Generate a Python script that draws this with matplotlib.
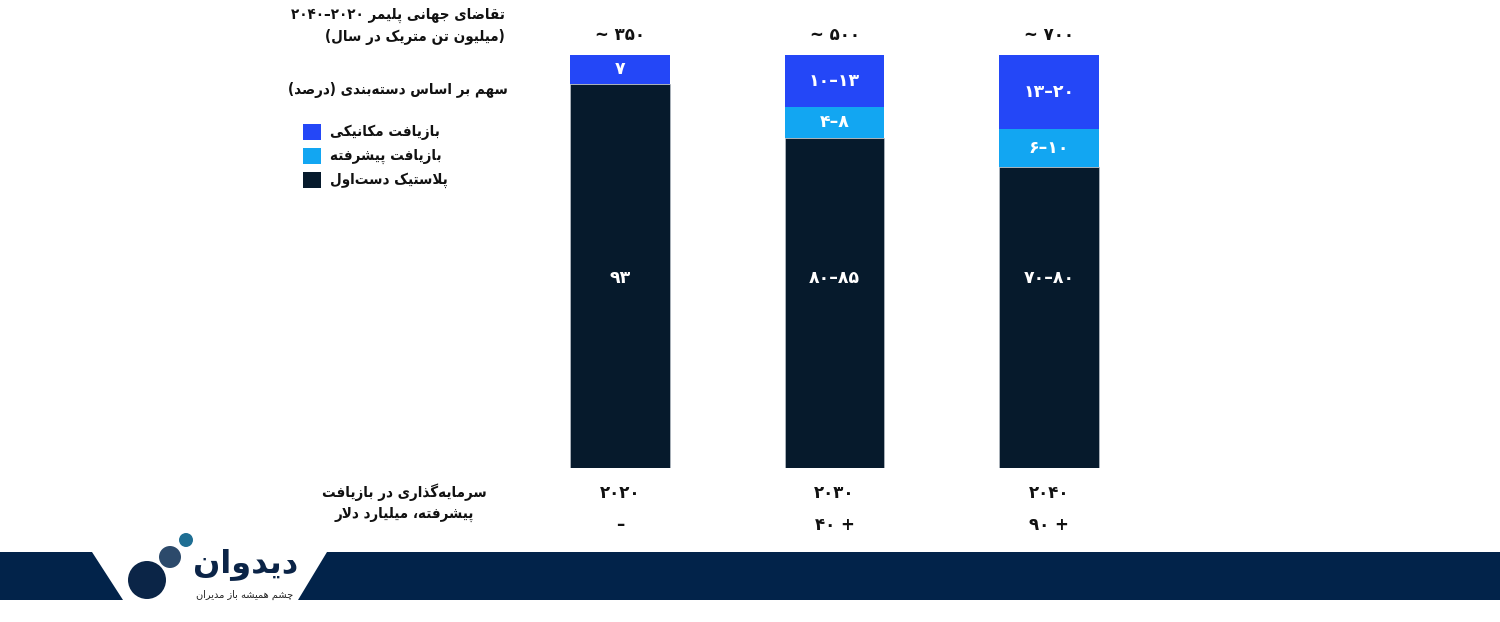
import re
import numpy as np
import matplotlib
matplotlib.use("Agg")
import matplotlib.pyplot as plt
from matplotlib.patches import Polygon, Rectangle, Ellipse

# # # # # # # # # # # # # # # # # # # # # # # # # # # # # # # # # # # # # # #
# data

years = ["۲۰۲۰", "۲۰۳۰", "۲۰۴۰"]
totals = ["~ ۳۵۰", "~ ۵۰۰", "~ ۷۰۰"]
invest = ["–", "۴۰ +", "۹۰ +"]

virgin = [93, 80, 73]
advanced = [0, 7.5, 9]
mechanical = [7, 12.5, 18]

virgin_lbl = ["۹۳", "۸۰–۸۵", "۷۰–۸۰"]
advanced_lbl = ["", "۴–۸", "۶–۱۰"]
mechanical_lbl = ["۷", "۱۰–۱۳", "۱۳–۲۰"]

series_names = ["بازیافت مکانیکی", "بازیافت پیشرفته", "پلاستیک دست‌اول"]
title1 = "تقاضای جهانی پلیمر ۲۰۲۰–۲۰۴۰"
title2 = "(میلیون تن متریک در سال)"
subtitle = "سهم بر اساس دسته‌بندی (درصد)"
invest_title = ["سرمایه‌گذاری در بازیافت", "پیشرفته، میلیارد دلار"]

c_mech = "#2447f7"
c_adv = "#12a6f2"
c_virgin = "#061a2c"
navy = "#02234a"

# # # # # # # # # # # # # # # # # # # # # # # # # # # # # # # # # # # # # # #
# tiny arabic/persian shaper (no external libs available)

FORMS = {
  'ا': (0xFE8D, 0xFE8E), 'آ': (0xFE81, 0xFE82), 'د': (0xFEA9, 0xFEAA),
  'ذ': (0xFEAB, 0xFEAC), 'ر': (0xFEAD, 0xFEAE), 'ز': (0xFEAF, 0xFEB0),
  'ژ': (0xFB8A, 0xFB8B), 'و': (0xFEED, 0xFEEE),
  'ب': (0xFE8F, 0xFE90, 0xFE91, 0xFE92), 'پ': (0xFB56, 0xFB57, 0xFB58, 0xFB59),
  'ت': (0xFE95, 0xFE96, 0xFE97, 0xFE98), 'ث': (0xFE99, 0xFE9A, 0xFE9B, 0xFE9C),
  'ج': (0xFE9D, 0xFE9E, 0xFE9F, 0xFEA0), 'چ': (0xFB7A, 0xFB7B, 0xFB7C, 0xFB7D),
  'ح': (0xFEA1, 0xFEA2, 0xFEA3, 0xFEA4), 'خ': (0xFEA5, 0xFEA6, 0xFEA7, 0xFEA8),
  'س': (0xFEB1, 0xFEB2, 0xFEB3, 0xFEB4), 'ش': (0xFEB5, 0xFEB6, 0xFEB7, 0xFEB8),
  'ص': (0xFEB9, 0xFEBA, 0xFEBB, 0xFEBC), 'ض': (0xFEBD, 0xFEBE, 0xFEBF, 0xFEC0),
  'ط': (0xFEC1, 0xFEC2, 0xFEC3, 0xFEC4), 'ظ': (0xFEC5, 0xFEC6, 0xFEC7, 0xFEC8),
  'ع': (0xFEC9, 0xFECA, 0xFECB, 0xFECC), 'غ': (0xFECD, 0xFECE, 0xFECF, 0xFED0),
  'ف': (0xFED1, 0xFED2, 0xFED3, 0xFED4), 'ق': (0xFED5, 0xFED6, 0xFED7, 0xFED8),
  'ک': (0xFB8E, 0xFB8F, 0xFB90, 0xFB91), 'گ': (0xFB92, 0xFB93, 0xFB94, 0xFB95),
  'ل': (0xFEDD, 0xFEDE, 0xFEDF, 0xFEE0), 'م': (0xFEE1, 0xFEE2, 0xFEE3, 0xFEE4),
  'ن': (0xFEE5, 0xFEE6, 0xFEE7, 0xFEE8), 'ه': (0xFEE9, 0xFEEA, 0xFEEB, 0xFEEC),
  'ی': (0xFBFC, 0xFBFD, 0xFBFE, 0xFBFF), 'ئ': (0xFE89, 0xFE8A, 0xFE8B, 0xFE8C),
}
MIRROR = {'(': ')', ')': '('}
DIGITS = "0123456789۰۱۲۳۴۵۶۷۸۹"


def dual(c):
  return c in FORMS and len(FORMS[c]) == 4


def shape(s):
  out = []
  i = 0
  while i < len(s):
    c = s[i]
    if c not in FORMS:
      if c != '\u200c':
        out.append(c)
      i += 1
      continue
    prev = s[i-1] if i > 0 else ''
    nxt = s[i+1] if i + 1 < len(s) else ''
    jp = dual(prev)
    if c == 'ل' and nxt in ('ا', 'آ'):
      out.append(chr(0xFEFC if jp else 0xFEFB))
      i += 2
      continue
    f = FORMS[c]
    jn = len(f) == 4 and nxt in FORMS
    if jp and jn:
      g = f[3]
    elif jn:
      g = f[2]
    elif jp:
      g = f[1]
    else:
      g = f[0]
    out.append(chr(g))
    i += 1
  return ''.join(out)


def fa(s):
  # shape, then lay out right-to-left (digit runs stay left-to-right)
  s = shape(s)
  runs = re.findall(r'[%s]+|[^%s]+' % (DIGITS, DIGITS), s)
  out = []
  for r in reversed(runs):
    if r[0] in DIGITS:
      out.append(r)
    else:
      out.append(''.join(MIRROR.get(c, c) for c in reversed(r)))
  return ''.join(out)


# # # # # # # # # # # # # # # # # # # # # # # # # # # # # # # # # # # # # # #

plt.rcParams['font.family'] = ['DejaVu Sans']
plt.rcParams['font.weight'] = 'bold'

W, H = 1500, 622
fig = plt.figure(figsize=(W/100., H/100.), dpi=100)
fig.patch.set_facecolor('white')


def fx(x):
  return x / float(W)


def fy(y):
  return 1 - y / float(H)


# bar axes: centres 620 / 834 / 1049 px, 0% at y=468, 100% at y=55
ax = fig.add_axes([fx(512.75), fy(468), 643.5/W, 413./H])
ax.set_xlim(-0.5, 2.5)
ax.set_ylim(0, 100)
ax.axis('off')

x = np.arange(len(years))
bw = 0.462
ax.bar(x, virgin, bw, color=c_virgin, edgecolor='#b9c0c8', linewidth=0.5)
ax.bar(x, advanced, bw, bottom=virgin, color=c_adv, linewidth=0)
b2 = np.array(virgin) + np.array(advanced)
ax.bar(x, mechanical, bw, bottom=b2, color=c_mech, linewidth=0)

lbl_y_virgin = 46   # the dark-segment labels sit at one common height
txt = dict(ha='center', va='center', clip_on=False)
for i in range(len(years)):
  ax.text(x[i], lbl_y_virgin, virgin_lbl[i], color='white', fontsize=12.5, **txt)
  if advanced[i] > 0:
    ax.text(x[i], virgin[i] + advanced[i] / 2., advanced_lbl[i], color='white', fontsize=12.5, **txt)
  ax.text(x[i], b2[i] + mechanical[i] / 2., mechanical_lbl[i], color='white', fontsize=12.5, **txt)
  ax.text(x[i], 104.8, totals[i], color='#111111', fontsize=12, **txt)
  ax.text(x[i], -6.1, years[i], color='#111111', fontsize=12, **txt)
  ax.text(x[i], -13.8, invest[i], color='#111111', fontsize=12, **txt)

# left hand texts
lt = dict(fontsize=10.8, color='#111111', fontstretch='condensed', va='center')
fig.text(fx(505), fy(15), fa(title1), ha='right', **lt)
fig.text(fx(505), fy(37), fa(title2), ha='right', **lt)
fig.text(fx(508), fy(90), fa(subtitle), ha='right', **lt)

leg_colors = [c_mech, c_adv, c_virgin]
for k in range(3):
  yc = 132 + 24 * k
  fig.patches.append(Rectangle((fx(303), fy(yc + 8)), 18./W, 16./H, transform=fig.transFigure,
                               facecolor=leg_colors[k], edgecolor='none'))
  fig.text(fx(330), fy(yc), fa(series_names[k]), ha='left', **lt)

fig.text(fx(404), fy(492), fa(invest_title[0]), ha='center', **lt)
fig.text(fx(404), fy(514), fa(invest_title[1]), ha='center', **lt)

# footer band + logo
fig.patches.append(Polygon([(fx(327), fy(552)), (1, fy(552)), (1, fy(600)), (fx(298), fy(600))],
                           closed=True, transform=fig.transFigure, facecolor=navy, edgecolor='none'))
fig.patches.append(Polygon([(0, fy(552)), (fx(92), fy(552)), (fx(123), fy(600)), (0, fy(600))],
                           closed=True, transform=fig.transFigure, facecolor=navy, edgecolor='none'))

for cx, cy, r, col in [(147, 580, 19, '#0b2547'), (170, 557, 11, '#2c4a6b'), (186, 540, 7, '#1f6e93')]:
  fig.patches.append(Ellipse((fx(cx), fy(cy)), 2. * r / W, 2. * r / H, transform=fig.transFigure,
                             facecolor=col, edgecolor='none'))

fig.text(fx(298), fy(564), fa("دیدوان"), ha='right', va='center', fontsize=23, color='#0b2447')
fig.text(fx(293), fy(595), fa("چشم همیشه باز مدیران"), ha='right', va='center', fontsize=7,
         color='#222222', fontweight='normal')

fig.savefig('out.png', dpi=100, facecolor='white')
